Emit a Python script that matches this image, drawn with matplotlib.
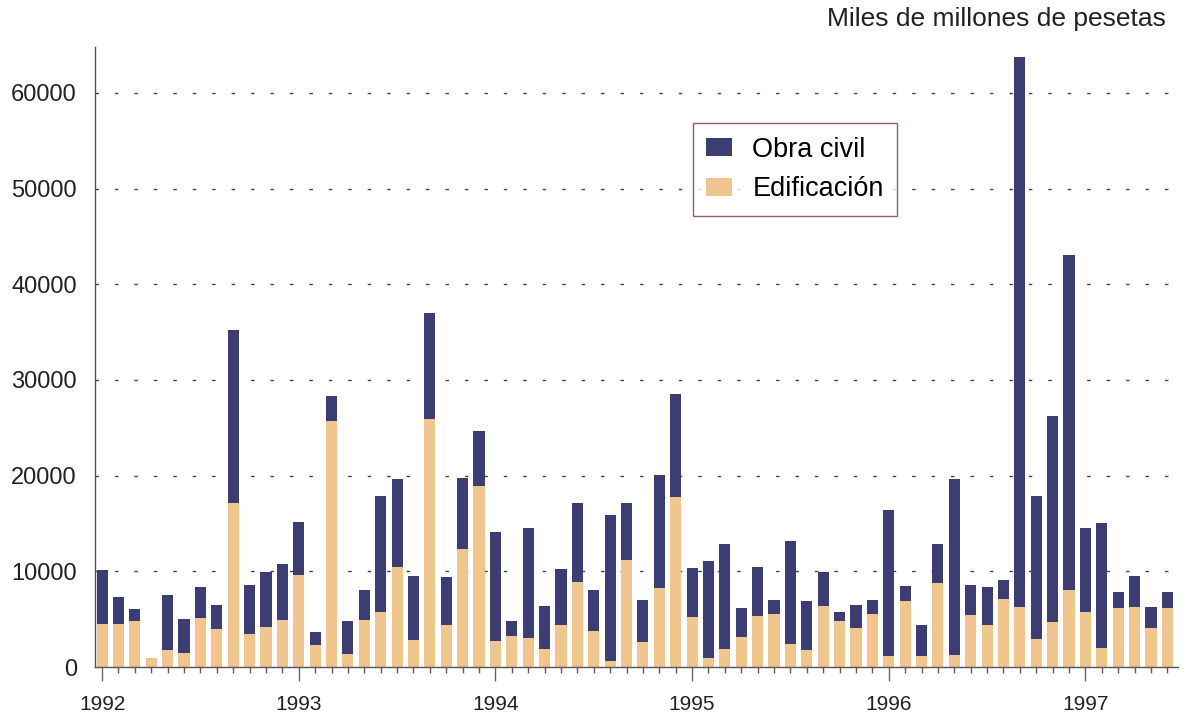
import numpy as np
import matplotlib
matplotlib.use("Agg")
import matplotlib.pyplot as plt
from matplotlib.ticker import FixedLocator

plt.rcParams['font.family'] = ['Liberation Sans', 'DejaVu Sans']

# =============================
# Données (miles de millones de pesetas), mensual ene-1992 .. jun-1997
# =============================
years = ["1992", "1993", "1994", "1995", "1996", "1997"]

edificacion = [
    4.5, 4.5, 4.8, 0.9, 1.75, 1.5, 5.1, 4.0, 17.1, 3.45, 4.2, 4.9,      # 1992
    9.6, 2.3, 25.7, 1.4, 4.9, 5.8, 10.5, 2.85, 25.9, 4.35, 12.3, 18.9,  # 1993
    2.7, 3.2, 3.0, 1.85, 4.35, 8.85, 3.75, 0.65, 11.15, 2.65, 8.25, 17.75,  # 1994
    5.2, 0.9, 1.85, 3.1, 5.35, 5.5, 2.4, 1.75, 6.4, 4.8, 4.05, 5.5,     # 1995
    1.2, 6.9, 1.1, 8.75, 1.3, 5.4, 4.35, 7.1, 6.3, 2.9, 4.7, 8.1,       # 1996
    5.7, 2.0, 6.2, 6.3, 4.1, 6.2,                                       # 1997
]
total = [
    10.1, 7.3, 6.05, 0.9, 7.5, 5.0, 8.35, 6.5, 35.2, 8.6, 9.9, 10.8,
    15.2, 3.7, 28.3, 4.8, 8.1, 17.9, 19.6, 9.5, 37.0, 9.45, 19.8, 24.7,
    14.1, 4.8, 14.5, 6.4, 10.2, 17.1, 8.0, 15.9, 17.1, 7.0, 20.1, 28.5,
    10.4, 11.1, 12.9, 6.15, 10.5, 7.05, 13.2, 6.9, 9.95, 5.8, 6.5, 7.05,
    16.4, 8.45, 4.35, 12.9, 19.6, 8.6, 8.35, 9.1, 63.8, 17.9, 26.2, 43.1,
    14.5, 15.1, 7.8, 9.5, 6.3, 7.8,
]

edif = np.array(edificacion) * 1000
obra = np.array(total) * 1000 - edif
meses = np.arange(len(edif))

# =============================
# Gráfico
# =============================
NAVY = "#3c3d72"
TAN = "#f1c68e"

fig = plt.figure(figsize=(11.88, 7.19), dpi=100)
ax = fig.add_axes([0.080, 0.0723, 0.9116, 0.8623])

ax.bar(meses, edif, width=0.68, color=TAN, label="Edificación", zorder=2)
ax.bar(meses, obra, width=0.68, bottom=edif, color=NAVY, label="Obra civil", zorder=2)

ax.set_xlim(-0.43, 65.65)
ax.set_ylim(0, 64800)

# ejes
for s in ["top", "right"]:
    ax.spines[s].set_visible(False)
ax.spines["left"].set_color("#555555")
ax.spines["bottom"].set_color("#555555")
ax.spines["left"].set_linewidth(1.0)
ax.spines["bottom"].set_linewidth(1.0)

ax.set_yticks(np.arange(0, 60001, 10000))
ax.set_yticklabels([str(v) for v in range(0, 60001, 10000)])
ax.tick_params(axis="y", length=0, pad=13, labelsize=17, labelcolor="#222222")

ax.xaxis.set_major_locator(FixedLocator(np.arange(0, 66, 12)))
ax.xaxis.set_minor_locator(FixedLocator(meses))
ax.set_xticklabels(years)
ax.tick_params(axis="x", which="major", direction="out", length=10, width=1.0,
               color="#666666", labelsize=15, labelcolor="#222222", pad=10)
ax.tick_params(axis="x", which="minor", direction="out", length=4, width=1.0,
               color="#7a4a6a")

for v in range(10000, 60001, 10000):
    ax.axhline(v, color="#444444", lw=1.0, ls=(0, (2.5, 11.5)), zorder=1)

handles, labels = ax.get_legend_handles_labels()
leg = ax.legend(handles[::-1], labels[::-1], loc="upper left",
                bbox_to_anchor=(0.552, 0.877), borderaxespad=0, fontsize=19.5,
                frameon=True, fancybox=False, edgecolor="#7a3a3a",
                handlelength=0.95, handleheight=0.65, handletextpad=0.75,
                borderpad=0.5, labelspacing=0.5)
leg.get_frame().set_linewidth(1.0)

fig.text(0.981, 0.973, "Miles de millones de pesetas", ha="right", va="center",
         fontsize=19, color="#222222")

fig.savefig("out.png", dpi=100)
